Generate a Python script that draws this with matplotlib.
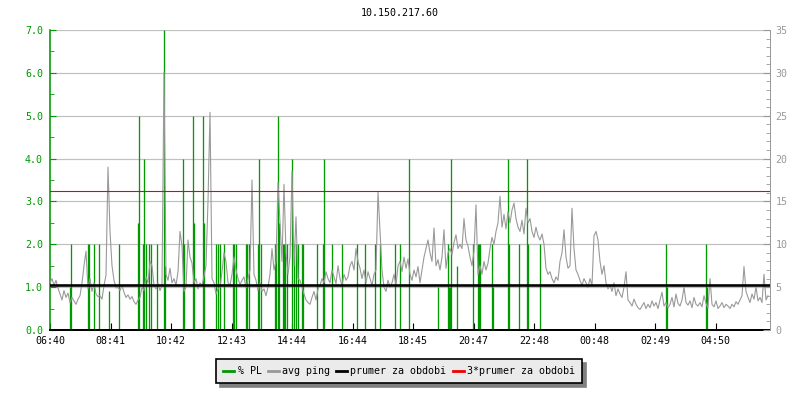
import matplotlib
matplotlib.use('Agg')
import matplotlib.pyplot as plt
from matplotlib.lines import Line2D
from matplotlib.ticker import MultipleLocator

plt.rcParams['font.family'] = 'DejaVu Sans Mono'
plt.rcParams['font.size'] = 7.2

# avg ping (ms), one value every 4 minutes starting 06:40
ping = [
    5.5, 6.0, 5.2, 5.8, 4.9, 4.2, 3.5, 4.6, 3.8, 4.3,
    3.2, 3.8, 3.4, 3.0, 3.6, 4.0, 5.5, 7.5, 9.2, 4.8,
    6.0, 4.5, 5.5, 4.2, 3.9, 4.0, 3.6, 5.2, 6.4, 19.0,
    11.5, 7.5, 5.8, 4.9, 5.0, 4.6, 5.2, 4.4, 3.8, 4.1,
    3.6, 3.9, 3.3, 3.0, 3.5, 3.8, 5.0, 4.6, 6.2, 5.5,
    8.0, 7.5, 5.2, 4.8, 5.5, 4.6, 5.2, 30.0, 6.5, 5.8,
    7.2, 5.5, 6.0, 5.2, 6.8, 11.5, 9.8, 4.5, 5.0, 10.5,
    8.5, 7.8, 5.5, 6.0, 4.8, 5.5, 5.2, 6.3, 7.5, 15.0,
    25.4, 6.0, 5.5, 4.2, 4.8, 5.0, 6.8, 9.0, 8.0, 5.5,
    5.2, 6.5, 8.5, 7.0, 6.0, 5.3, 5.8, 6.2, 4.9, 6.0,
    7.0, 17.5, 6.5, 5.8, 4.6, 5.5, 4.5, 4.8, 4.0, 5.0,
    6.5, 9.5, 7.0, 8.0, 17.2, 12.5, 8.0, 17.0, 9.0, 6.5,
    8.5, 18.5, 7.5, 13.2, 6.0, 5.8, 5.0, 4.2, 3.5, 3.2,
    3.0, 3.8, 4.5, 3.5, 4.8, 5.2, 6.0, 5.5, 6.8, 6.0,
    5.5, 7.0, 6.2, 5.4, 7.5, 6.0, 5.2, 6.5, 5.8, 6.2,
    7.5, 8.0, 7.0, 9.5, 8.0, 7.2, 6.0, 7.0, 5.5, 6.8,
    6.0, 5.2, 6.5, 7.0, 16.1, 11.5, 7.0, 5.0, 4.5, 5.8,
    5.0, 5.5, 6.5, 5.2, 7.5, 8.0, 6.8, 8.5, 7.2, 8.3,
    6.5, 5.8, 7.0, 6.2, 7.4, 5.5, 7.0, 8.5, 9.5, 10.5,
    9.0, 8.0, 11.9, 7.5, 8.2, 7.0, 8.5, 11.7, 7.2, 9.0,
    9.5, 8.8, 10.2, 11.1, 9.5, 10.0, 9.5, 13.0, 10.5, 9.8,
    8.5, 7.5, 9.2, 14.6, 6.5, 7.5, 6.5, 8.0, 7.0, 7.8,
    9.5, 10.8, 10.0, 11.5, 12.5, 15.6, 12.0, 13.5, 11.8, 13.8,
    12.5, 14.0, 14.8, 13.0, 12.0, 11.5, 12.8, 11.2, 14.2, 12.5,
    13.0, 11.5, 10.8, 12.0, 11.0, 10.5, 11.2, 10.0, 7.2, 6.5,
    6.8, 6.0, 5.5, 6.2, 5.8, 8.0, 9.0, 11.7, 8.5, 7.2,
    7.5, 14.2, 9.5, 7.0, 6.5, 5.8, 5.2, 6.0, 5.5, 5.0,
    6.0, 5.2, 11.0, 11.5, 10.5, 8.0, 6.5, 7.5, 5.5, 4.8,
    5.2, 4.5, 5.5, 4.0, 4.8, 4.2, 3.8, 5.0, 6.8, 3.5,
    3.2, 2.8, 3.6, 3.0, 2.6, 2.4, 2.8, 3.2, 2.5, 3.0,
    2.6, 3.4, 2.8, 3.2, 2.5, 3.5, 4.4, 2.8, 3.2, 2.6,
    3.0, 3.8, 2.7, 4.2, 3.1, 2.8, 3.5, 5.0, 3.2, 2.9,
    3.4, 2.6, 3.8, 3.0, 2.8, 3.2, 2.7, 4.0, 3.1, 2.6,
    6.0, 3.0, 2.7, 3.4, 2.5, 2.8, 3.2, 2.6, 3.0, 2.8,
    2.5, 3.0, 2.7, 3.3, 3.0, 3.5, 4.0, 7.4, 4.5, 3.8,
    3.2, 4.2, 3.6, 5.0, 3.4, 3.8, 3.2, 6.5, 3.5, 4.0,
]
ping_min = [4 * i for i in range(len(ping))]

# packet loss events (minute from 06:40, % PL)
pl_min = [40, 42, 76, 78, 88, 98, 118, 138, 176, 178, 186, 188, 192, 198, 202,
          214, 228, 230, 266, 268, 286, 288, 306, 308, 332, 336, 340, 348, 366,
          368, 372, 392, 394, 398, 416, 418, 422, 450, 452, 456, 458, 466, 468,
          470, 474, 484, 488, 492, 496, 504, 506, 534, 546, 548, 564, 584, 614,
          630, 650, 660, 690, 700, 718, 776, 796, 798, 800, 802, 814, 846, 856,
          858, 860, 884, 886, 916, 918, 938, 954, 956, 980, 1232, 1234, 1312, 1314]
pl_val = [1.0, 2.0, 2.0, 2.0, 2.0, 2.0, 0.9, 2.0, 2.5, 5.0, 2.0, 4.0, 2.0, 2.0, 2.0,
          2.0, 7.0, 1.5, 4.0, 2.0, 5.0, 2.5, 5.0, 2.5, 2.0, 2.0, 2.0, 2.0, 2.0,
          2.0, 2.0, 2.0, 2.0, 2.0, 2.0, 4.0, 2.0, 2.0, 2.0, 5.0, 2.5, 2.0, 2.0,
          2.0, 2.0, 4.0, 2.0, 2.0, 2.0, 2.0, 2.0, 2.0, 2.0, 4.0, 2.0, 2.0, 2.0,
          2.0, 2.0, 2.0, 2.0, 2.0, 4.0, 1.0, 2.0, 1.0, 1.0, 4.0, 1.5, 2.0, 2.0,
          2.0, 2.0, 2.0, 1.0, 4.0, 2.0, 2.0, 4.0, 2.0, 2.0, 2.0, 1.0, 2.0, 1.0]

prumer = 5.3
prumer3 = 16.2

tick_labels = ['06:40', '08:41', '10:42', '12:43', '14:44', '16:44',
               '18:45', '20:47', '22:48', '00:48', '02:49', '04:50']

green = '#009900'
gray = '#999999'
px = 72 / 100  # one pixel in points

fig = plt.figure(figsize=(8, 4), dpi=100)
ax = fig.add_axes([50 / 800, 70 / 400, 720 / 800, 300 / 400])
ax2 = ax.twinx()

ax.set_xlim(0, 1440)
ax.set_ylim(0, 7)
ax2.set_ylim(0, 35)

ax.yaxis.grid(True, color='#c0c0c0', linewidth=px * 1.2)
ax.set_axisbelow(True)

ax.vlines(pl_min, 0, pl_val, color=green, linewidth=px * 1.3, zorder=2)
ax2.plot(ping_min, ping, color=gray, linewidth=px * 1.1, zorder=3)
ax2.axhline(prumer, color='black', linewidth=px * 2.6, zorder=4)
ax2.axhline(prumer3, color='#ee0000', linewidth=px * 1.1, zorder=4)

ax.set_xticks([i * 1440 / 11.9 for i in range(len(tick_labels))])
ax.set_xticklabels(tick_labels)
ax.yaxis.set_major_locator(MultipleLocator(1.0))
ax.yaxis.set_minor_locator(MultipleLocator(0.5))
ax.yaxis.set_major_formatter(lambda v, p: f'{v:.1f}')
ax2.yaxis.set_major_locator(MultipleLocator(5))
ax2.yaxis.set_minor_locator(MultipleLocator(1))

ax.tick_params(axis='y', which='both', direction='in', colors=green, pad=5)
ax.tick_params(axis='y', which='major', length=4)
ax.tick_params(axis='y', which='minor', length=3)
ax.tick_params(axis='x', direction='in', length=5, pad=4, colors='black')
ax2.tick_params(axis='y', which='both', direction='in', colors=gray, pad=4)
ax2.tick_params(axis='y', which='major', length=5)
ax2.tick_params(axis='y', which='minor', length=3)

for a in (ax, ax2):
    a.spines['top'].set_visible(False)
ax.spines['left'].set_color(green)
ax.spines['left'].set_linewidth(px * 1.6)
ax.spines['bottom'].set_linewidth(px * 2)
ax2.spines['left'].set_visible(False)
ax2.spines['bottom'].set_visible(False)
ax2.spines['right'].set_color(gray)
ax2.spines['right'].set_linewidth(px)
ax.spines['right'].set_visible(False)

fig.text(0.5, 1 - 13 / 400, '10.150.217.60', ha='center', va='center')

handles = [Line2D([], [], color=green, linewidth=2),
           Line2D([], [], color=gray, linewidth=2),
           Line2D([], [], color='black', linewidth=2),
           Line2D([], [], color='#ee0000', linewidth=2)]
labels = ['% PL', 'avg ping', 'prumer za obdobi', '3*prumer za obdobi']
leg = fig.legend(handles, labels, loc='center', bbox_to_anchor=(399 / 800, 1 - 371 / 400),
                 ncol=4, frameon=True, fancybox=False, handlelength=1.1,
                 handletextpad=0.35, columnspacing=0.6, borderpad=0.7,
                 shadow={'ox': 3, 'oy': -3, 'color': '#808080', 'alpha': 1})
leg.get_frame().set_facecolor('#ebebeb')
leg.get_frame().set_edgecolor('black')
leg.get_frame().set_linewidth(1.2)
leg.get_frame().set_alpha(1)

plt.savefig('out.png', dpi=100)
